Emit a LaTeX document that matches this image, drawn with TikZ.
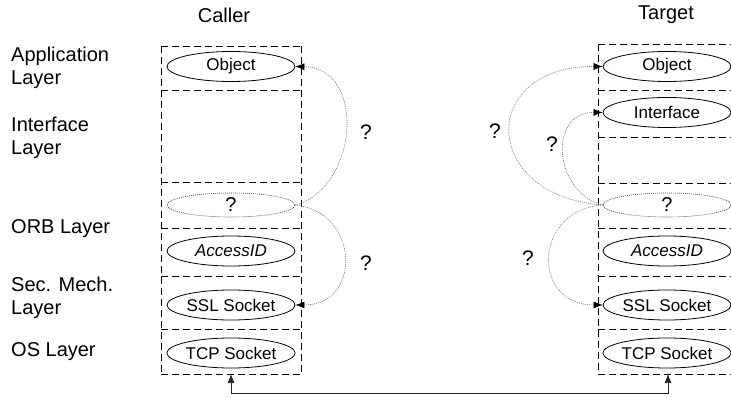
\documentclass[tikz,border=0pt]{standalone}
\usepackage{fontspec}
\setmainfont{Liberation Sans}
\usetikzlibrary{shapes.geometric,arrows.meta}

\begin{document}
\begin{tikzpicture}[x=1pt,y=-1pt,
  layerline/.style={draw, line width=0.8pt, dash pattern=on 7pt off 4pt},
  comp/.style={ellipse, draw, line width=0.8pt, minimum width=128pt,
    minimum height=30pt, inner sep=0pt, font=\fontsize{17}{20}\selectfont},
  unknown/.style={ellipse, draw=black!75, line width=0.6pt,
    dash pattern=on 1pt off 1pt, minimum width=128pt, minimum height=24pt,
    inner sep=0pt, font=\fontsize{20}{22}\selectfont},
  guess/.style={draw=black!55, line width=0.6pt, dash pattern=on 1pt off 1pt,
    -{Latex[length=9pt,width=7pt,color=black]}},
  lbl/.style={font=\fontsize{20}{23}\selectfont, align=left, anchor=west, inner sep=0pt},
  ttl/.style={font=\fontsize{20}{22}\selectfont, inner sep=0pt},
  qm/.style={font=\fontsize{21}{22}\selectfont, inner sep=0pt},
  link/.style={draw=black!85, line width=0.7pt,
    {Latex[length=9pt,width=7pt]}-{Latex[length=9pt,width=7pt]}}
]
\clip (0,0) rectangle (731,398);
\useasboundingbox (0,0) rectangle (731,398);

% column titles
\node[ttl] (tcaller) at (224,15) {Caller};
\node[ttl] (ttarget) at (666,15) {Target};

% layer names
\node[lbl] (lapp) at (11,68)  {Application\\Layer};
\node[lbl] (lint) at (11,138) {Interface\\Layer};
\node[lbl] (lorb) at (11,229) {ORB Layer};
\node[lbl] (lsec) at (11,298) {Sec. Mech.\\Layer};
\node[lbl] (los)  at (11,352) {OS Layer};

% caller layer stack: outer sides, then one dashed rule per layer boundary
\draw[layerline] (161,46) -- (161,374);
\draw[layerline] (301,46) -- (301,374);
\foreach \y in {46,90,182,228,276,329,374}
  \draw[layerline] (161,\y) -- (301,\y);

% target layer stack
\draw[layerline] (598,44) -- (598,374);
\draw[layerline] (738,44) -- (738,374);
\foreach \y in {44,90,137,183,228,276,329,374}
  \draw[layerline] (598,\y) -- (738,\y);

% caller components
\node[comp] (cobj) at (231,66.5) {Object};
\node[unknown] (cq) at (231,205) {?};
\node[comp] (cacc) at (231,251) {\itshape AccessID};
\node[comp] (cssl) at (231,305) {SSL Socket};
\node[comp] (ctcp) at (231,353) {TCP Socket};

% target components
\node[comp] (tobj) at (667,66.5) {Object};
\node[comp] (tint) at (667,112.5) {Interface};
\node[unknown] (tq) at (667,205) {?};
\node[comp] (tacc) at (667,251) {\itshape AccessID};
\node[comp] (tssl) at (667,305) {SSL Socket};
\node[comp] (ttcp) at (667,353) {TCP Socket};

% open questions on the caller side
\draw[guess] (cq.east) .. controls (358,188) and (367,68) .. (cobj.east);
\draw[guess] (cq.east) .. controls (360,212) and (362,305) .. (cssl.east);
\node[qm] (qc1) at (366,132) {?};
\node[qm] (qc2) at (366,263) {?};

% open questions on the target side
\draw[guess] (tq.west) .. controls (480,196) and (478,66) .. (tobj.west);
\draw[guess] (tq.west) .. controls (553,192) and (548,112) .. (tint.west);
\draw[guess] (tq.west) .. controls (533,210) and (531,305) .. (tssl.west);
\node[qm] (qt1) at (495,131) {?};
\node[qm] (qt2) at (552,144) {?};
\node[qm] (qt3) at (528,258) {?};

% network connection between the two hosts
\coordinate (cbot) at (231,374);
\coordinate (tbot) at (668,374);
\draw[link] (cbot) -- ++(0,19) -| (tbot);
\end{tikzpicture}
\end{document}
